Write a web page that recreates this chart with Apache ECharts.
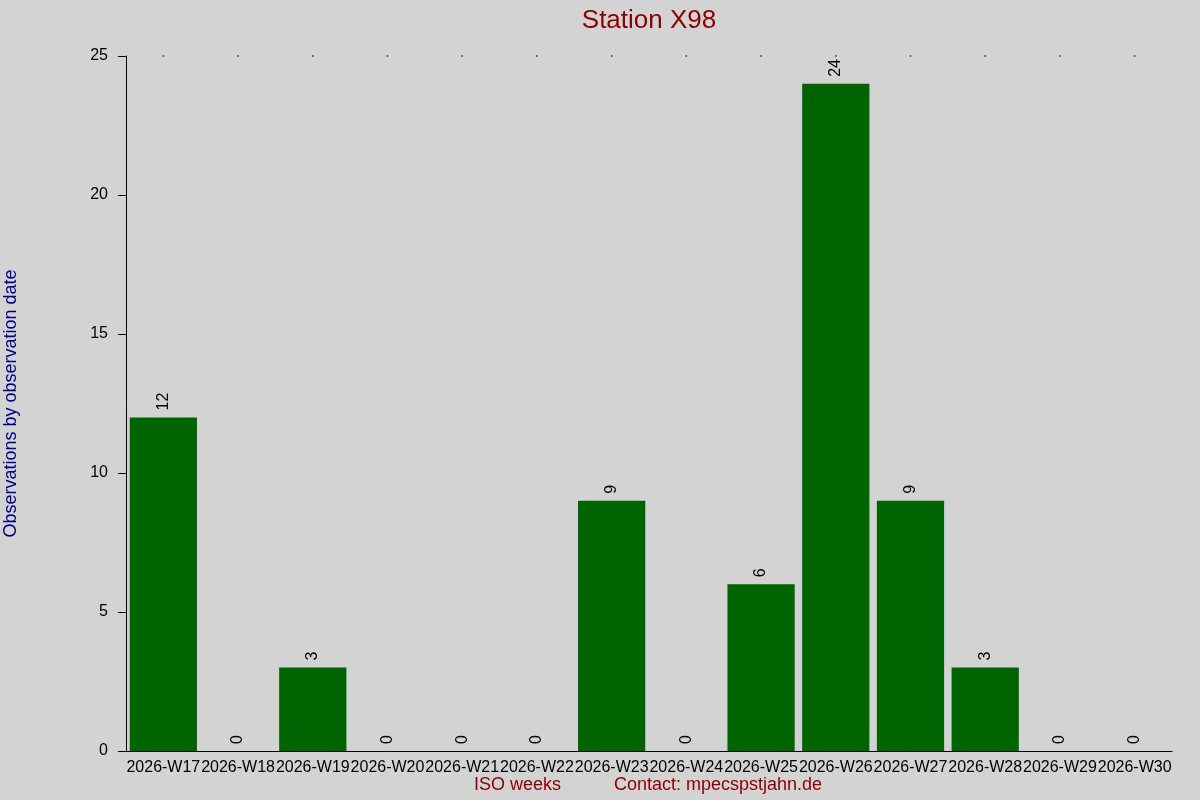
<!DOCTYPE html>
<html><head><meta charset="utf-8">
<script src="https://cdn.jsdelivr.net/npm/echarts@6/dist/echarts.min.js"></script>
<style>html,body{margin:0;padding:0;background:#d3d3d3;}#c{width:1200px;height:800px;}</style>
</head><body><div id="c"></div>
<script>
const categories = ['2026-W17','2026-W18','2026-W19','2026-W20','2026-W21','2026-W22','2026-W23','2026-W24','2026-W25','2026-W26','2026-W27','2026-W28','2026-W29','2026-W30'];
const observations = [12,0,3,0,0,0,9,0,6,24,9,3,0,0];
const yTicks = [0,5,10,15,20,25];
const yMax = 25;
const topMarks = categories.map(() => yMax);

const FONT = '"Liberation Sans", Arial, sans-serif';
const chart = echarts.init(document.getElementById('c'), null, {renderer:'canvas'});
chart.setOption({
  backgroundColor: '#d3d3d3',
  animation: false,
  title: {
    text: 'Station X98', left: 644, top: 3, textAlign: 'center',
    textStyle: {color: '#8b0000', fontSize: 26, fontWeight: 'normal', fontFamily: FONT}
  },
  grid: {left: 126, right: 28, top: 56, bottom: 49, containLabel: false, outerBoundsMode: 'none'},
  xAxis: {
    type: 'category', data: categories,
    axisLine: {show: true, lineStyle: {color: '#000', width: 1}},
    axisTick: {show: false},
    axisLabel: {interval: 0, color: '#000', fontSize: 16, fontFamily: FONT, margin: 9},
    splitLine: {show: false}
  },
  yAxis: {
    type: 'value', min: 0, max: yMax, interval: yTicks[1] - yTicks[0],
    name: 'Observations by observation date', nameLocation: 'middle', nameGap: 106,
    nameTextStyle: {color: '#00008b', fontSize: 18, fontFamily: FONT},
    axisLine: {show: true, lineStyle: {color: '#000', width: 1}},
    axisTick: {show: true, length: 8, lineStyle: {color: '#000'}},
    axisLabel: {color: '#000', fontSize: 16, fontFamily: FONT, margin: 18},
    splitLine: {show: false}
  },
  series: [
    {
      type: 'bar', data: observations, barCategoryGap: '10%',
      itemStyle: {color: '#006400'},
      label: {
        show: true, position: 'top', rotate: 90, distance: 7,
        align: 'left', verticalAlign: 'middle',
        color: '#000', fontSize: 16, fontFamily: FONT
      }
    },
    {
      type: 'scatter', data: topMarks, symbol: 'rect', symbolSize: 1.5,
      itemStyle: {color: '#000'}, silent: true, z: 1
    }
  ],
  graphic: [
    {type: 'text', left: 474, top: 776, style: {text: 'ISO weeks', fill: '#8b0000', font: '18px ' + FONT}},
    {type: 'text', left: 614, top: 776, style: {text: 'Contact: mpecspstjahn.de', fill: '#8b0000', font: '18px ' + FONT}}
  ]
});
</script></body></html>
